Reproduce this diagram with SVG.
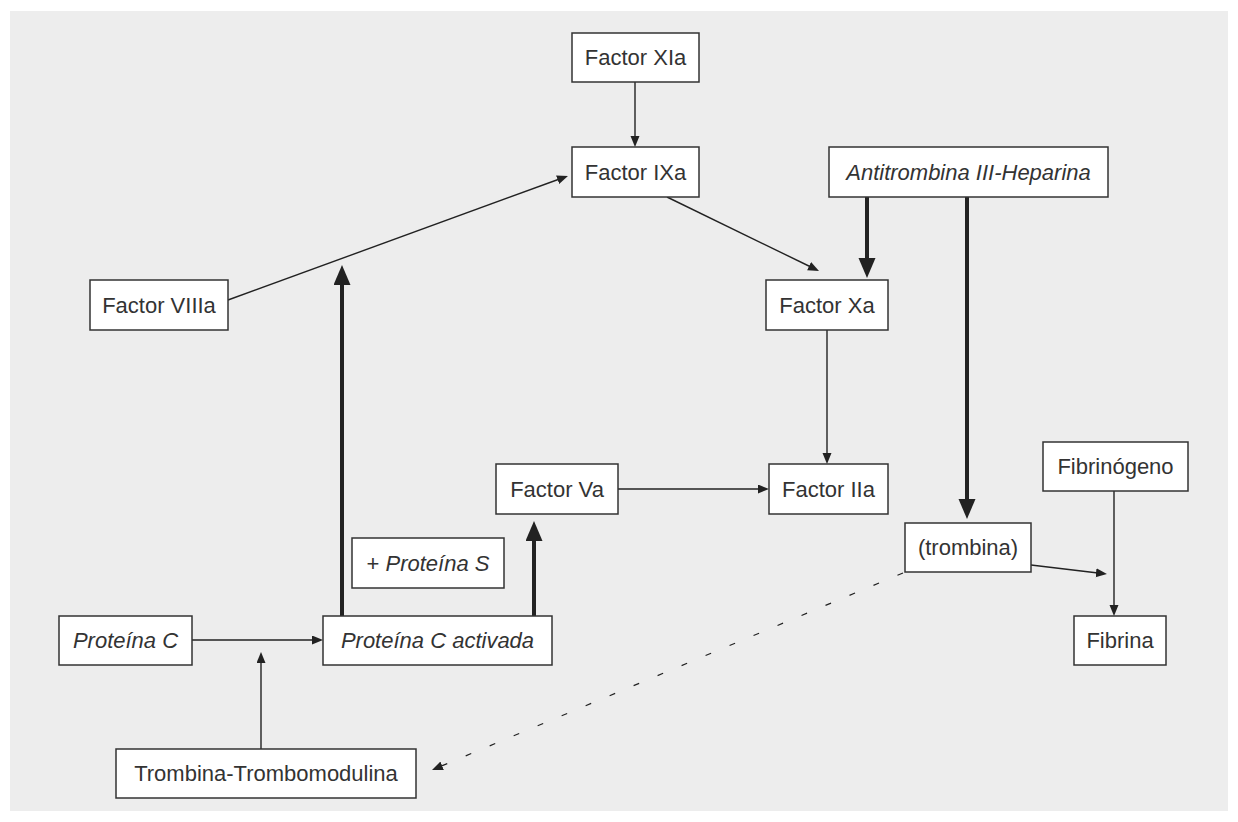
<svg xmlns="http://www.w3.org/2000/svg" width="1238" height="822" viewBox="0 0 1238 822">
<style>
.box{fill:#fff;stroke:#333;stroke-width:1.5}
.t{font-family:"Liberation Sans",Arial,sans-serif;font-size:22px;fill:#333;text-anchor:middle}
.i{font-style:italic}
.thin{stroke:#222;stroke-width:1.4;fill:none}
.thick{stroke:#222;stroke-width:4;fill:none}
.dash{stroke:#222;stroke-width:1.2;fill:none;stroke-dasharray:6 20}
</style>
<defs>
<marker id="a" markerUnits="userSpaceOnUse" markerWidth="13" markerHeight="11" refX="2" refY="4.5" orient="auto" viewBox="0 0 13 11">
<path d="M0,0 L11,4.5 L0,9 z" fill="#222"/>
</marker>
<marker id="A" markerUnits="userSpaceOnUse" markerWidth="22" markerHeight="18" refX="2" refY="8.5" orient="auto" viewBox="0 0 22 18">
<path d="M0,0 L20,8.5 L0,17 z" fill="#222"/>
</marker>
</defs>
<rect x="10" y="11" width="1218" height="800" fill="#ededed"/>
<g id="connectors">
<line class="thin" x1="635" y1="82" x2="635" y2="138" marker-end="url(#a)"/>
<line class="thin" x1="228" y1="300" x2="559.5" y2="179" marker-end="url(#a)"/>
<line class="thin" x1="667" y1="197" x2="810.9" y2="267" marker-end="url(#a)"/>
<line class="thin" x1="827" y1="330" x2="827" y2="455" marker-end="url(#a)"/>
<line class="thin" x1="618" y1="489" x2="760" y2="489" marker-end="url(#a)"/>
<line class="thin" x1="1114" y1="491" x2="1114" y2="607" marker-end="url(#a)"/>
<line class="thin" x1="1031" y1="565" x2="1098" y2="573" marker-end="url(#a)"/>
<line class="thin" x1="192" y1="640" x2="314" y2="640" marker-end="url(#a)"/>
<line class="thin" x1="261" y1="749" x2="261" y2="661" marker-end="url(#a)"/>
<line class="dash" x1="903" y1="573" x2="440.3" y2="766.5" marker-end="url(#a)"/>
<line class="thick" x1="867" y1="197" x2="867" y2="260" marker-end="url(#A)"/>
<line class="thick" x1="967" y1="197" x2="967" y2="501" marker-end="url(#A)"/>
<line class="thick" x1="342" y1="616" x2="342" y2="283" marker-end="url(#A)"/>
<line class="thick" x1="534" y1="616" x2="534" y2="539" marker-end="url(#A)"/>
</g>
<g id="xia"><rect class="box" x="572" y="33" width="127" height="49"/><text class="t" x="635.5" y="57.5" dy="0.36em">Factor XIa</text></g>
<g id="ixa"><rect class="box" x="572" y="147" width="127" height="50"/><text class="t" x="635.5" y="172" dy="0.36em">Factor IXa</text></g>
<g id="at3"><rect class="box" x="829" y="147" width="279" height="50"/><text class="t i" x="968.5" y="172" dy="0.36em">Antitrombina III-Heparina</text></g>
<g id="viiia"><rect class="box" x="90" y="280" width="138" height="50"/><text class="t" x="159" y="305" dy="0.36em">Factor VIIIa</text></g>
<g id="xa"><rect class="box" x="766" y="280" width="122" height="50"/><text class="t" x="827" y="305" dy="0.36em">Factor Xa</text></g>
<g id="va"><rect class="box" x="496" y="464" width="122" height="50"/><text class="t" x="557" y="489" dy="0.36em">Factor Va</text></g>
<g id="iia"><rect class="box" x="769" y="464" width="119" height="50"/><text class="t" x="828.5" y="489" dy="0.36em">Factor IIa</text></g>
<g id="prots"><rect class="box" x="352" y="538" width="152" height="50"/><text class="t" x="428" y="563" dy="0.36em">+ <tspan class="i">Proteína S</tspan></text></g>
<g id="fibrinogeno"><rect class="box" x="1043" y="442" width="145" height="49"/><text class="t" x="1115.5" y="466.5" dy="0.36em">Fibrinógeno</text></g>
<g id="trombina"><rect class="box" x="905" y="523" width="126" height="49"/><text class="t" x="968" y="547.5" dy="0.36em">(trombina)</text></g>
<g id="fibrina"><rect class="box" x="1074" y="616" width="92" height="49"/><text class="t" x="1120" y="640.5" dy="0.36em">Fibrina</text></g>
<g id="pc"><rect class="box" x="59" y="616" width="133" height="49"/><text class="t i" x="125.5" y="640.5" dy="0.36em">Proteína C</text></g>
<g id="pca"><rect class="box" x="323" y="616" width="229" height="49"/><text class="t i" x="437.5" y="640.5" dy="0.36em">Proteína C activada</text></g>
<g id="tt"><rect class="box" x="116" y="749" width="300" height="49"/><text class="t" x="266" y="773.5" dy="0.36em">Trombina-Trombomodulina</text></g>
</svg>
